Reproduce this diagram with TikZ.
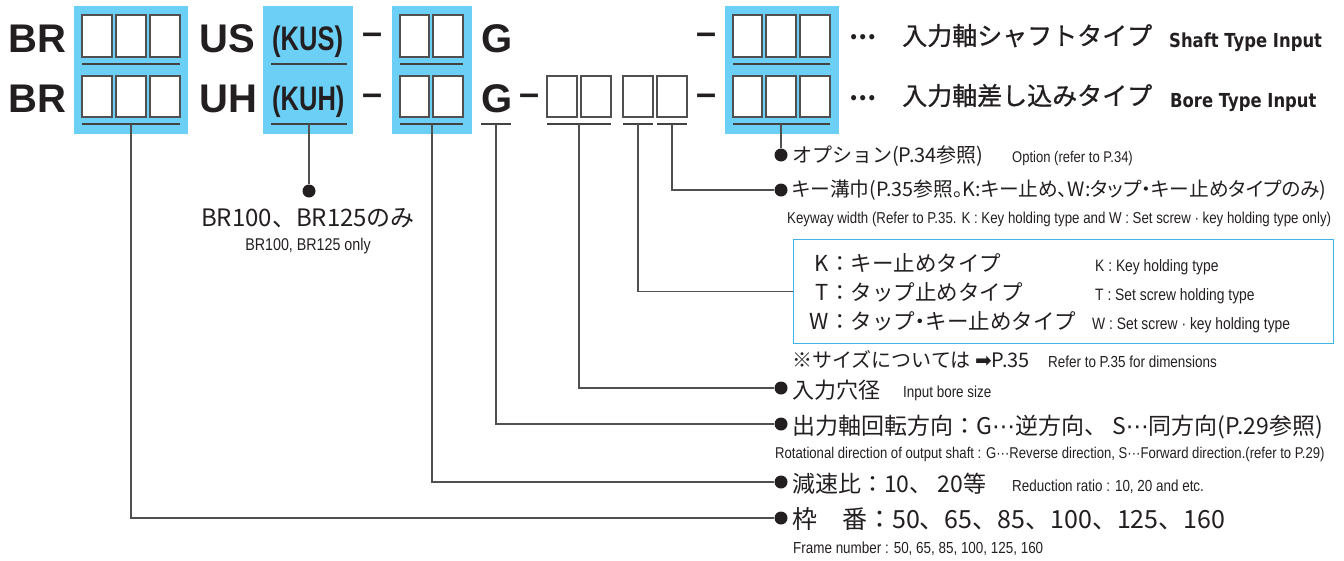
\documentclass[tikz,border=0pt]{standalone}
\usepackage{fontspec}
\setmainfont{Liberation Sans}
\newfontfamily\jp{Noto Sans CJK JP}
\newfontfamily\jpp[RawFeature=+palt]{Noto Sans CJK JP}
\newfontfamily\jpm[FakeBold=0.8]{Noto Sans CJK JP}
\newfontfamily\cond[FakeStretch=0.84]{Liberation Sans}
\newfontfamily\bcond[FakeStretch=0.75]{Liberation Sans Bold}
\newfontfamily\vb[FakeStretch=0.85]{DejaVu Sans Bold}
\newfontfamily\dv{DejaVu Sans}
\newcommand{\myfs}[1]{\fontsize{#1}{#1}\selectfont}
\definecolor{skyb}{RGB}{108,207,246}
\definecolor{boxb}{RGB}{64,180,230}
\definecolor{lncol}{RGB}{80,80,80}
\definecolor{tx}{RGB}{35,31,32}
\begin{document}
\begin{tikzpicture}[x=1pt,y=-1pt,
  sq/.style={draw=lncol, line width=1.3pt, fill=white},
  conn/.style={draw=lncol, line width=1.2pt},
  uline/.style={draw=tx!85, line width=1.3pt},
  dotc/.style={circle, fill=tx, inner sep=0pt, minimum size=13pt},
  txt/.style={anchor=base west, inner sep=0pt, text=tx},
  big/.style={txt, font=\bfseries\myfs{40}},
  dashc/.style={txt, font=\bfseries\myfs{36}},
  jpl/.style={txt, font=\jp\myfs{#1}},
  jpp/.style={txt, font=\jpp\myfs{#1}},
  en/.style={txt, font=\cond\myfs{#1}}]
\useasboundingbox (0,0) rectangle (1344,560);
% blue fields
\fill[skyb] (74,6) rectangle (188,134);
\fill[skyb] (263,6) rectangle (353,134);
\fill[skyb] (392,6) rectangle (472,134);
\fill[skyb] (725,6) rectangle (839,134);
% squares
\foreach \a/\b in {82/112,116/146,150/180,400/429,433/463,733/762,766/796,800/830}{
  \draw[sq] (\a,15) rectangle (\b,57);
  \draw[sq] (\a,76) rectangle (\b,117);
}
\foreach \a/\b in {547/577,581/611,623/653,657/687}{
  \draw[sq] (\a,76) rectangle (\b,117);
}
% dividers between rows
\foreach \a/\b in {82/180,271/347,400/463,733/830}{
  \draw[uline] (\a,64) -- (\b,64);
}
% underlines below row 2
\foreach \a/\b in {82/180,271/347,400/463,481/511,547/611,623/653,657/687,733/830}{
  \draw[uline] (\a,124) -- (\b,124);
}
% code texts
\node[big] (br1) at (8,52) {BR};
\node[big] (br2) at (8,112) {BR};
\node[big] (us) at (199,52) {US};
\node[big] (uh) at (199,112) {UH};
\node[txt, font=\bcond\myfs{34}] (kus) at (272,50) {(KUS)};
\node[txt, font=\bcond\myfs{34}] (kuh) at (272,110) {(KUH)};
\node[big] (g1) at (481,52) {G};
\node[big] (g2) at (481,112) {G};
\node[dashc] (da1) at (362,44) {–};
\node[dashc] (da2) at (362,105) {–};
\node[dashc] (da3) at (519,105) {–};
\node[dashc] (da4) at (696,44) {–};
\node[dashc] (da5) at (696,105) {–};
\node[txt, font=\jp\bfseries\myfs{24}] (el1) at (849,39) {…};
\node[txt, font=\jp\bfseries\myfs{24}] (el2) at (849,100) {…};
\node[txt, font=\jpm\myfs{25}] (h1) at (902,45) {入力軸シャフトタイプ};
\node[txt, font=\jpm\myfs{25}] (h2) at (902,105) {入力軸差し込みタイプ};
\node[txt, font=\vb\myfs{19.3}] (h1e) at (1169,47) {Shaft Type Input};
\node[txt, font=\vb\myfs{19.3}] (h2e) at (1170,107) {Bore Type Input};
% middle note
\node[anchor=base, inner sep=0pt, text=tx, font=\jp\myfs{24}] (m1) at (308,226) {BR100、BR125のみ};
\node[anchor=base, inner sep=0pt, text=tx, font=\cond\myfs{17}] (m2) at (308,250) {BR100, BR125 only};
% right labels
\node[jpl=20] (l1) at (792,162) {オプション(P.34参照)};
\node[en=15.5] (e1) at (1012,162) {Option (refer to P.34)};
\node[jpp=19.7] (l2) at (792,196) {キー溝巾(P.35参照。K:キー止め、W:タップ・キー止めタイプのみ)};
\node[en=15.8] (e2) at (787,223) {Keyway width (Refer to P.35. K : Key holding type and W : Set screw · key holding type only)};
\node[draw=boxb, line width=1.3pt, minimum width=540pt, minimum height=104pt, anchor=north west, inner sep=0pt] (kbox) at (793,239) {};
\node[txt, anchor=base east, font=\jp\myfs{22}] (k1a) at (829,271) {K};
\node[txt, anchor=base east, font=\jp\myfs{22}] (k2a) at (829,300) {T};
\node[txt, anchor=base east, font=\jp\myfs{22}] (k3a) at (829,329) {W};
\node[jpl=21.5] (k1) at (829,271) {：キー止めタイプ};
\node[jpl=21.5] (k2) at (829,300) {：タップ止めタイプ};
\node[jpl=21.5] (k3) at (829,329) {：タップ{\jpp ・}キー止めタイプ};
\node[en=16.5] (k1e) at (1095,271) {K : Key holding type};
\node[en=16.5] (k2e) at (1095,300) {T : Set screw holding type};
\node[en=16.5] (k3e) at (1092,329) {W : Set screw · key holding type};
\node[jpl=20] (l3) at (792,367) {※サイズについては {\dv ➡}P.35};
\node[en=16] (e3) at (1048,367) {Refer to P.35 for dimensions};
\node[jpl=22] (l4) at (792,398) {入力穴径};
\node[en=16] (e4) at (903,397) {Input bore size};
\node[jpl=23] (l5) at (792,434) {出力軸回転方向：G{\dv ⋯}逆方向、 S{\dv ⋯}同方向(P.29参照)};
\node[en=15.6] (e5) at (775,458) {Rotational direction of output shaft : G···Reverse direction, S···Forward direction.(refer to P.29)};
\node[jpl=23] (l6) at (792,492) {減速比：10、 20等};
\node[en=16] (e6) at (1012,491) {Reduction ratio : 10, 20 and etc.};
\node[jpl=25] (l7) at (792,528) {枠　番：50、65、85、100、125、160};
\node[en=16] (e7) at (793,553) {Frame number : 50, 65, 85, 100, 125, 160};
% connector tops
\coordinate (t1) at (131,124);
\coordinate (t2) at (309,124);
\coordinate (t3) at (432,124);
\coordinate (t4) at (496,124);
\coordinate (t5) at (579,124);
\coordinate (t6) at (638,124);
\coordinate (t7) at (672,124);
\coordinate (t8) at (781,124);
% dots
\node[dotc] (dm) at (309,191) {};
\node[dotc] (d1) at (781,155) {};
\node[dotc] (d2) at (781,190) {};
\node[dotc] (d4) at (781,388) {};
\node[dotc] (d5) at (781,424) {};
\node[dotc] (d6) at (781,482) {};
\node[dotc] (d7) at (781,518) {};
% connectors
\draw[conn] (t2) -- (dm);
\draw[conn] (t8) -- (d1);
\draw[conn] (t7) |- (d2);
\draw[conn] (t6) |- (kbox.west);
\draw[conn] (t5) |- (d4);
\draw[conn] (t4) |- (d5);
\draw[conn] (t3) |- (d6);
\draw[conn] (t1) |- (d7);
\end{tikzpicture}
\end{document}
